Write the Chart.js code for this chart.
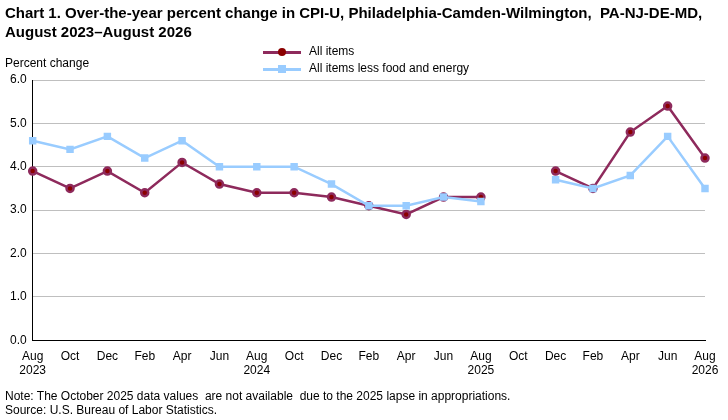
<!DOCTYPE html>
<html>
<head>
<meta charset="utf-8">
<script src="https://cdn.jsdelivr.net/npm/chart.js@4/dist/chart.umd.min.js"></script>
<style>
  body { margin: 0; width: 728px; height: 420px; background: #fff; font-family: "Liberation Sans", Arial, sans-serif; position: relative; overflow: hidden; }
  #wrap { position: absolute; left: 0; top: 0; width: 728px; height: 420px; }
  .title { position: absolute; left: 5px; top: 3px; width: 712px; font-weight: bold; font-size: 15px; line-height: 19px; color: #000; }
  .ylab { position: absolute; left: 5px; top: 56px; font-size: 12px; }
  .note { position: absolute; left: 5px; top: 389px; font-size: 12px; line-height: 14px; }
  .legend { position: absolute; left: 263px; top: 43px; font-size: 12px; line-height: 17px; }
  .legend div { display: flex; align-items: center; }
  .sw { position: relative; width: 38px; height: 12px; margin-right: 8px; }
  .sw i { position: absolute; left: 0; right: 0; top: 5px; height: 3px; }
  .sw b { position: absolute; left: 15px; top: 2px; width: 8px; height: 8px; }
</style>
</head>
<body>
<div id="wrap"><canvas id="cpiChart" width="728" height="420"></canvas></div>
<div class="title">Chart 1. Over-the-year percent change in CPI-U, Philadelphia-Camden-Wilmington,&nbsp; PA-NJ-DE-MD, August 2023–August 2026</div>
<div class="ylab">Percent change</div>
<div class="legend">
  <div><span class="sw"><i style="background:#8e2a5c"></i><b style="background:#8b0000;border-radius:50%"></b></span>All items</div>
  <div><span class="sw"><i style="background:#99ccff"></i><b style="background:#99ccff"></b></span>All items less food and energy</div>
</div>
<div class="note">Note: The October 2025 data values&nbsp; are not available&nbsp; due to the 2025 lapse in appropriations.<br>Source: U.S. Bureau of Labor Statistics.</div>
<script>
const months = [
  ["Aug", "2023"], "Oct", "Dec", "Feb", "Apr", "Jun", ["Aug", "2024"], "Oct", "Dec",
  "Feb", "Apr", "Jun", ["Aug", "2025"], "Oct", "Dec", "Feb", "Apr", "Jun", ["Aug", "2026"]
];
const allItems = [3.9, 3.5, 3.9, 3.4, 4.1, 3.6, 3.4, 3.4, 3.3, 3.1, 2.9, 3.3, 3.3, null, 3.9, 3.5, 4.8, 5.4, 4.2];
const lessFoodEnergy = [4.6, 4.4, 4.7, 4.2, 4.6, 4.0, 4.0, 4.0, 3.6, 3.1, 3.1, 3.3, 3.2, null, 3.7, 3.5, 3.8, 4.7, 3.5];
const yTicks = [0, 1, 2, 3, 4, 5, 6];

const ctx = document.getElementById("cpiChart").getContext("2d");

new Chart(ctx, {
  type: "line",
  data: {
    labels: months,
    datasets: [
      {
        label: "All items less food and energy",
        data: lessFoodEnergy,
        borderColor: "#99ccff",
        backgroundColor: "#99ccff",
        borderWidth: 2.5,
        pointStyle: "rect",
        pointRadius: 3.5,
        tension: 0,
        spanGaps: false,
      },
      {
        label: "All items",
        data: allItems,
        borderColor: "#8e2a5c",
        backgroundColor: "#8b0000",
        borderWidth: 2.5,
        pointStyle: "circle",
        pointRadius: 3.5,
        tension: 0,
        spanGaps: false,
      },
    ],
  },
  options: {
    responsive: false,
    animation: false,
    layout: { padding: { top: 80, left: 4, right: 23, bottom: 39 } },
    plugins: { legend: { display: false }, tooltip: { enabled: false } },
    scales: {
      x: {
        offset: false,
        grid: { display: false, drawOnChartArea: false, drawTicks: true, tickLength: 6, color: "#000" },
        border: { color: "#000" },
        ticks: { color: "#000", font: { family: "Liberation Sans", size: 12 }, maxRotation: 0, autoSkip: false },
      },
      y: {
        min: 0,
        max: 6,
        afterBuildTicks: (axis) => { axis.ticks = yTicks.map((v) => ({ value: v })); },
        grid: { color: "#bfbfbf", drawTicks: false },
        border: { color: "#000" },
        ticks: { color: "#000", padding: 6, font: { family: "Liberation Sans", size: 12 }, callback: (v) => v.toFixed(1) },
      },
    },
  },
});
</script>
</body>
</html>
